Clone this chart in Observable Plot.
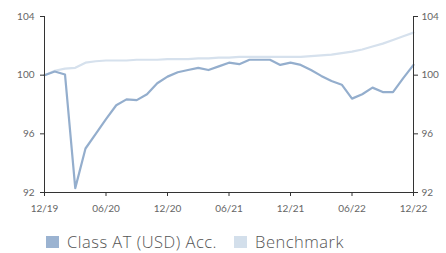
<!DOCTYPE html>
<html>
<head>
<meta charset="utf-8">
<script src="https://cdn.jsdelivr.net/npm/d3@7"></script>
<script src="https://cdn.jsdelivr.net/npm/@observablehq/plot@0.6"></script>
<style>
  html, body { margin: 0; padding: 0; background: #fff; }
  body { width: 446px; height: 253px; overflow: hidden; font-family: Lato, "Open Sans", sans-serif; }
  #legend { display: flex; align-items: center; margin-left: 46px; margin-top: 10px; font-size: 16.5px; letter-spacing: 0.5px; color: #555; font-weight: 300; font-family: "Open Sans", Lato, sans-serif; line-height: 20px; }
  .item { display: flex; align-items: center; margin-right: 17px; white-space: nowrap; }
  .sw { width: 13px; height: 12px; margin-right: 8px; }
</style>
</head>
<body>
<div id="chart"></div>
<div id="legend"></div>
<script>
// month index 0 = 12/19 ... 36 = 12/22
const months = d3.range(0, 37);
const classValues = [
  100.0, 100.25, 100.05, 92.3, 95.0, 96.0, 97.0, 97.95, 98.35, 98.3, 98.7, 99.45,
  99.9, 100.2, 100.35, 100.5, 100.35, 100.6, 100.85, 100.75, 101.05, 101.05, 101.05, 100.7,
  100.85, 100.7, 100.35, 99.95, 99.6, 99.35, 98.4, 98.7, 99.15, 98.85, 98.85, 99.8, 100.7
];
const benchmarkValues = [
  100.0, 100.3, 100.45, 100.5, 100.85, 100.95, 101.0, 101.0, 101.0, 101.05, 101.05, 101.05,
  101.1, 101.1, 101.1, 101.15, 101.15, 101.2, 101.2, 101.25, 101.25, 101.25, 101.25, 101.25,
  101.25, 101.25, 101.3, 101.35, 101.4, 101.5, 101.6, 101.75, 101.95, 102.15, 102.4, 102.65, 102.9
];
const xTicks = [0, 6, 12, 18, 24, 30, 36];
const xTickLabels = ["12/19", "06/20", "12/20", "06/21", "12/21", "06/22", "12/22"];
const yTicks = [92, 96, 100, 104];
const seriesNames = ["Class AT (USD) Acc.", "Benchmark"];
const seriesColors = ["#94aecd", "#d6e1ed"];

const classData = months.map((m, i) => ({m, v: classValues[i]}));
const benchData = months.map((m, i) => ({m, v: benchmarkValues[i]}));

const axisColor = "#333";
const labelColor = "#666";

const chart = Plot.plot({
  width: 446,
  height: 222,
  marginLeft: 44,
  marginRight: 33,
  marginTop: 16,
  marginBottom: 30,
  style: {fontFamily: "Lato, 'Open Sans', sans-serif", fontSize: "10px", color: labelColor, background: "#fff"},
  x: {domain: [0, 36], type: "linear"},
  y: {domain: [92, 104]},
  marks: [
    Plot.line(benchData, {x: "m", y: "v", stroke: seriesColors[1], strokeWidth: 2.2}),
    Plot.line(classData, {x: "m", y: "v", stroke: seriesColors[0], strokeWidth: 2.2}),
    Plot.ruleX([0, 36], {y1: 92, y2: 104, stroke: axisColor, strokeWidth: 1}),
    Plot.ruleY([92], {x1: 0, x2: 36, stroke: axisColor, strokeWidth: 1}),
    Plot.axisY({anchor: "left", ticks: yTicks, tickSize: 4, tickPadding: 6, stroke: axisColor, fill: labelColor, label: null, fontSize: 10}),
    Plot.axisY({anchor: "right", ticks: yTicks, tickSize: 4, tickPadding: 4, stroke: axisColor, fill: labelColor, label: null, fontSize: 10}),
    Plot.axisX({ticks: xTicks, tickFormat: (d) => xTickLabels[xTicks.indexOf(d)], tickSize: 4, tickPadding: 8, stroke: axisColor, fill: labelColor, label: null, fontSize: 10})
  ]
});
document.getElementById("chart").appendChild(chart);

const legend = document.getElementById("legend");
seriesNames.forEach((name, i) => {
  const item = document.createElement("div");
  item.className = "item";
  const sw = document.createElement("div");
  sw.className = "sw";
  sw.style.background = i === 0 ? "#9bb3d1" : "#d3dfeb";
  const t = document.createElement("span");
  t.textContent = name;
  item.appendChild(sw);
  item.appendChild(t);
  legend.appendChild(item);
});
</script>
</body>
</html>
